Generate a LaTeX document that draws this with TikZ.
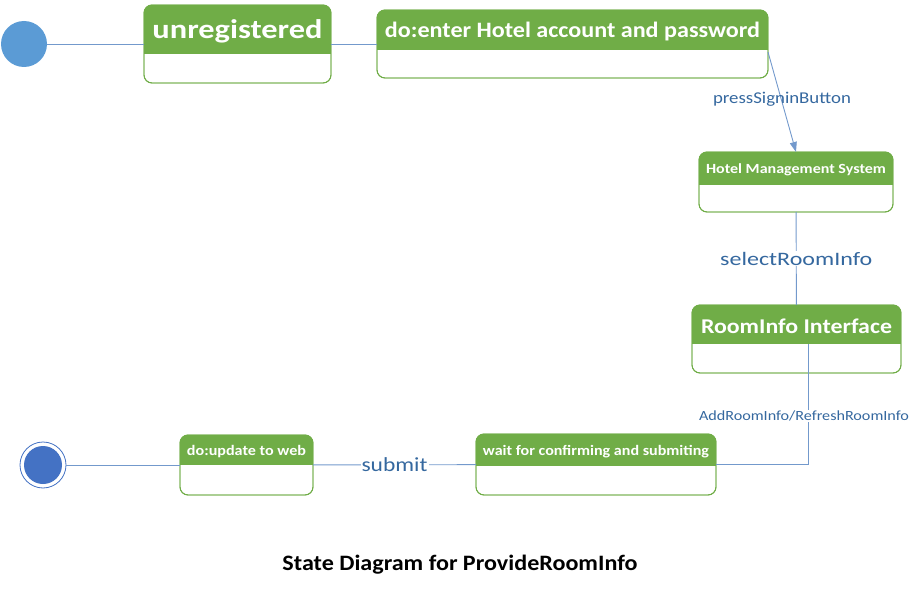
\documentclass[tikz,border=0pt]{standalone}
\usepackage{fontspec}
\usepackage{graphicx}
\setmainfont{Carlito}
\usetikzlibrary{arrows.meta}
\definecolor{hdr}{HTML}{70AD47}
\definecolor{lnc}{HTML}{7399CC}
\definecolor{lbl}{HTML}{35689F}
\definecolor{initc}{HTML}{5B9BD5}
\definecolor{finc}{HTML}{4472C4}
\tikzset{
 stbody/.style={draw=hdr, line width=0.9pt, rounded corners=8pt, fill=white, inner sep=0pt, outer sep=0pt},
 conn/.style={draw=lnc, line width=0.9pt},
 lab/.style={text=lbl, fill=white, inner sep=1pt},
 hdrtext/.style={text=white, inner sep=0pt}
}
\newcommand\wtext[3]{\resizebox{#2pt}{\height}{\fontsize{#1}{#1}\selectfont #3}}
\newcommand\mkstate[9]{%
 \node[stbody, minimum width=#4-#2, minimum height=#5-#3] (#1) at ({(#2+#4)/2},{(#3+#5)/2}) {};
 \begin{scope}
 \clip[rounded corners=8pt] (#2,#3) rectangle (#4,#5);
 \fill[hdr] (#2,#3) rectangle (#4,#6);
 \end{scope}
 \draw[hdr, line width=0.9pt, rounded corners=8pt] (#2,#3) rectangle (#4,#5);
 \node[hdrtext, font=\bfseries] (#1-t) at ({(#2+#4)/2},{(#3+#6)/2+1.5}) {\wtext{#7}{#8}{#9}};
}
\begin{document}
\begin{tikzpicture}[x=1pt,y=-1pt]
\useasboundingbox (0,0) rectangle (919,591);
% initial and final
\node[circle, fill=initc, minimum size=46pt, inner sep=0pt] (init) at (24,44) {};
\node[circle, draw=finc, line width=0.8pt, fill=white, minimum size=46pt, inner sep=0pt] (final) at (43,465) {};
\node[circle, fill=finc, minimum size=38pt, inner sep=0pt] (finalin) at (43,465) {};
% states
\mkstate{unreg}{144}{5}{331}{83}{54}{27}{170}{unregistered}
\mkstate{doenter}{377}{10}{768}{78}{50}{22}{375}{do:enter Hotel account and password}
\mkstate{hms}{699}{152}{893}{212}{185}{14}{180}{Hotel Management System}
\mkstate{room}{692}{305}{901}{373}{344}{21}{191}{RoomInfo Interface}
\mkstate{wait}{476}{434}{716}{495}{466}{14.5}{226}{wait for confirming and submiting}
\mkstate{upd}{180}{435}{313}{495}{465}{14.5}{119}{do:update to web}
% connectors
\draw[conn] (init) -- (unreg);
\draw[conn] (unreg) -- (doenter);
\draw[conn, -{Triangle[length=10pt,width=7pt]}] ([yshift=-8pt]doenter.east) -- (hms.north);
\node[lab, fill=none] (lp) at (782,99) {\wtext{16.5}{138}{pressSigninButton}};
\draw[conn] (hms) -- (room) node[lab, midway] (ls) {\wtext{19}{152}{selectRoomInfo}};
\coordinate (rs) at (808,344);
\draw[conn] (rs) |- (wait.east);
\node[lab] (la) at (804,416) {\wtext{14}{210}{AddRoomInfo/RefreshRoomInfo}};
\draw[conn] (wait) -- (upd) node[lab, midway] (lsub) {\wtext{20}{66}{submit}};
\draw[conn] (final) -- (upd);
% title
\node[font=\bfseries] (title) at (460,565) {\wtext{22}{355}{State Diagram for ProvideRoomInfo}};
\end{tikzpicture}
\end{document}
